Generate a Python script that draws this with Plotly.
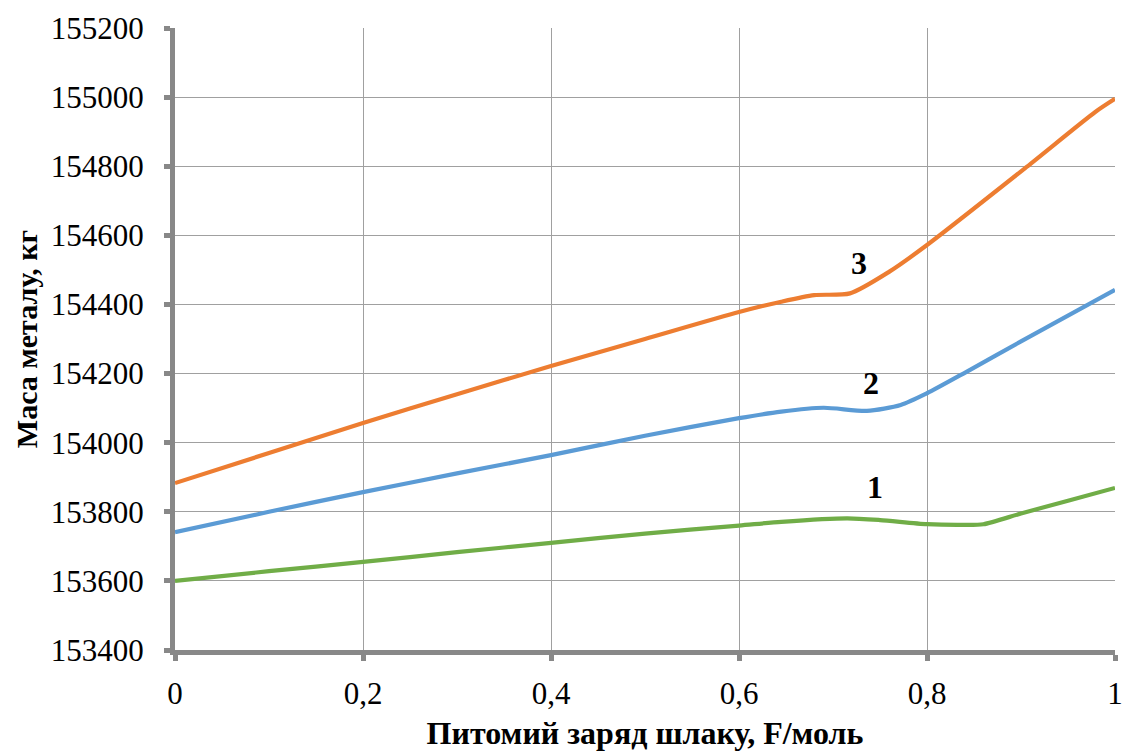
import plotly.graph_objects as go

x1 = [0, 0.1, 0.2, 0.3, 0.4, 0.5, 0.6, 0.645, 0.715, 0.75, 0.8, 0.84, 0.86, 0.9, 0.95, 1.0]
y1 = [153600, 153628, 153655, 153683, 153710, 153737, 153760, 153771, 153781, 153776, 153764, 153762, 153764, 153795, 153832, 153869]

x2 = [0, 0.1, 0.2, 0.3, 0.4, 0.5, 0.6, 0.645, 0.69, 0.736, 0.772, 0.8, 0.842, 0.9, 1.0]
y2 = [153741, 153800, 153857, 153911, 153964, 154020, 154071, 154090, 154101, 154092, 154109, 154143, 154205, 154293, 154442]

x3 = [0, 0.1, 0.2, 0.3, 0.4, 0.5, 0.6, 0.645, 0.68, 0.718, 0.76, 0.8, 0.906, 0.979, 1.0]
y3 = [153883, 153970, 154057, 154140, 154222, 154300, 154378, 154408, 154427, 154432, 154495, 154572, 154798, 154957, 154995]

labels = ["1", "2", "3"]
label_pos = [(0.745, 153872), (0.74, 154173), (0.728, 154520)]

colors = ["#70AD47", "#5B9BD5", "#ED7D31"]

fig = go.Figure()
for xs, ys, c in [(x1, y1, colors[0]), (x2, y2, colors[1]), (x3, y3, colors[2])]:
    fig.add_trace(go.Scatter(x=xs, y=ys, mode="lines",
                             line=dict(color=c, width=4.2, shape="spline", smoothing=0.7),
                             showlegend=False, hoverinfo="skip"))

font = "Liberation Serif, Times New Roman, serif"
for lab, (lx, ly) in zip(labels, label_pos):
    fig.add_annotation(x=lx, y=ly, text=f"<b>{lab}</b>", showarrow=False,
                       font=dict(family=font, size=32, color="black"))

fig.update_layout(
    width=1122, height=751,
    margin=dict(l=175, r=7, t=28, b=101),
    paper_bgcolor="white", plot_bgcolor="white",
    font=dict(family=font, color="black"),
    xaxis=dict(range=[0, 1], tickvals=[0, 0.2, 0.4, 0.6, 0.8, 1.0],
               ticktext=["0", "0,2", "0,4", "0,6", "0,8", "1"],
               showgrid=True, gridcolor="#A0A0A0", gridwidth=1.3,
               showline=True, linecolor="#888888", linewidth=5,
               ticks="outside", ticklen=6, tickwidth=5, tickcolor="#888888",
               tickfont=dict(family=font, size=31, color="black"), zeroline=False,
               ticklabelstandoff=6, ticklabeloverflow="allow", automargin=False,
               title=dict(text="<b>Питомий заряд шлаку, F/моль</b>",
                          font=dict(family=font, size=32, color="black"), standoff=14)),
    yaxis=dict(range=[153400, 155200], tickvals=list(range(153400, 155201, 200)),
               ticktext=[str(v) for v in range(153400, 155201, 200)],
               showgrid=True, gridcolor="#A0A0A0", gridwidth=1.3,
               showline=True, linecolor="#888888", linewidth=5,
               ticks="outside", ticklen=6, tickwidth=5, tickcolor="#888888",
               tickfont=dict(family=font, size=31, color="black"), zeroline=False,
               ticklabelstandoff=14, ticklabeloverflow="allow", automargin=False,
               title=dict(text="<b>Маса металу, кг</b>",
                          font=dict(family=font, size=30, color="black"), standoff=6)),
)
fig.write_html("out.html")
